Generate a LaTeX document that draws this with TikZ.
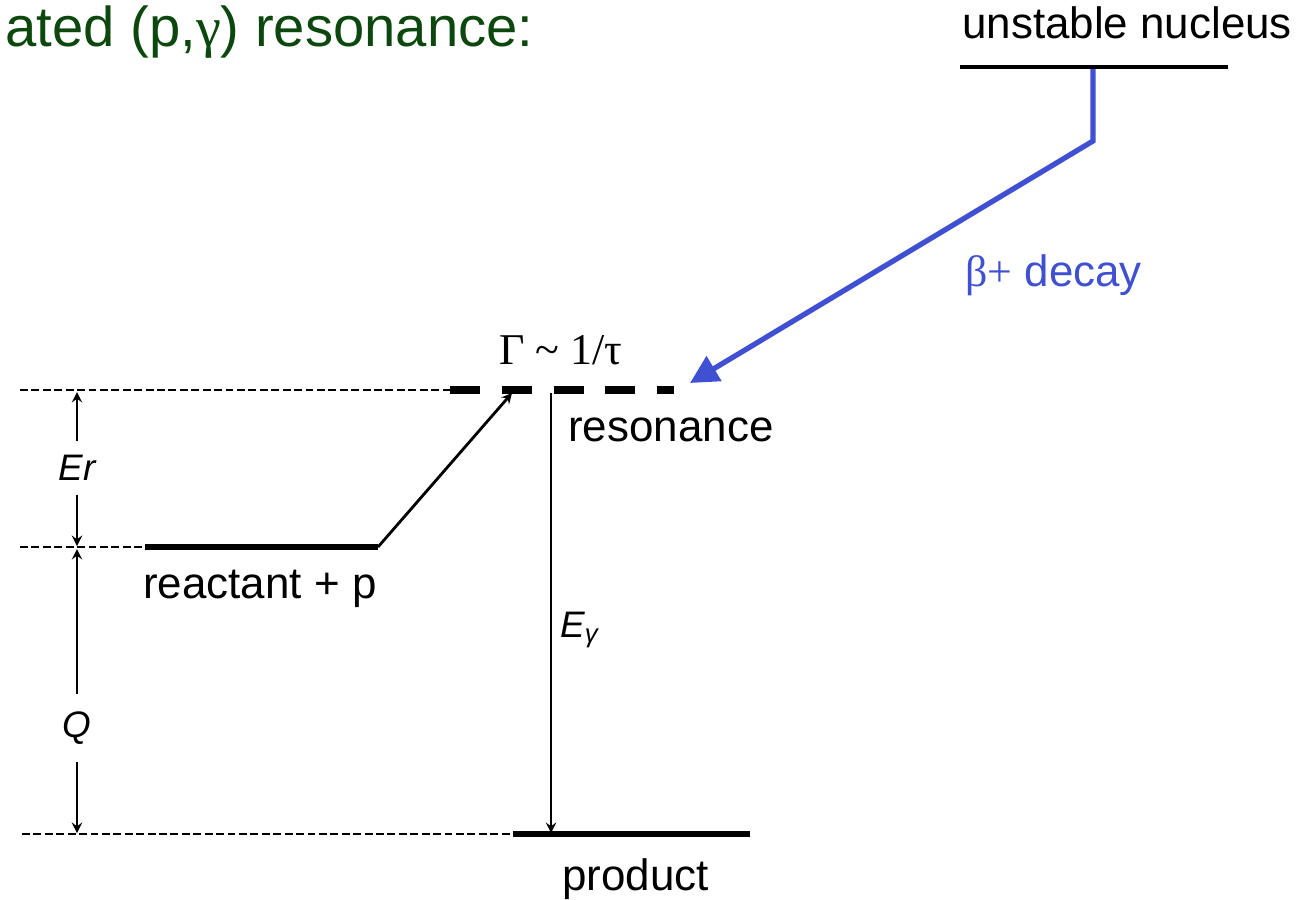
\documentclass[tikz,border=0pt]{standalone}
\usepackage{fontspec}
\setmainfont{Liberation Sans}
\newfontfamily\greekserif{Liberation Serif}
\usepackage{tikz}
\usetikzlibrary{arrows,arrows.meta,positioning}
\definecolor{titlegreen}{RGB}{12,72,14}
\definecolor{decayblue}{RGB}{64,80,210}

\begin{document}
\begin{tikzpicture}[
    x=0.02cm, y=-0.02cm,
    font=\fontsize{25}{30}\selectfont,
    level/.style={line width=3.8pt},
    guide/.style={line width=1.1pt, dash pattern=on 4.5pt off 2pt},
    reslevel/.style={line width=4.2pt, dash pattern=on 17pt off 12.5pt},
    arrow/.style={->,>=stealth, line width=1.6pt},
    decay/.style={-{Triangle[length=16pt,width=16pt]}, decayblue, line width=3pt},
    lbl/.style={inner sep=0pt, anchor=base west},
    gaplbl/.style={font=\fontsize{21}{25}\selectfont\itshape, inner xsep=0pt, inner ysep=8pt}
]
    \useasboundingbox (0,0) rectangle (1301,899);

    % level end points
    \coordinate (res-w) at (20,390);
    \coordinate (res-a) at (450,390);
    \coordinate (res-b) at (674,390);
    \coordinate (rea-w) at (20,547);
    \coordinate (rea-a) at (145,547);
    \coordinate (rea-b) at (378,547);
    \coordinate (pro-w) at (22,834);
    \coordinate (pro-a) at (513,834);
    \coordinate (pro-b) at (750,834);
    \coordinate (uns-a) at (960,67);
    \coordinate (uns-b) at (1228,67);

    % labels
    \node[lbl, titlegreen, font=\fontsize{32}{38}\selectfont] (title) at (5,46) {ated (p,{\greekserif γ}) resonance:};
    \node[lbl] (unstable) at (962,38) {unstable nucleus};
    \node[lbl, decayblue] (beta) at (965,286) {{\greekserif β+} decay};
    \node[lbl, font=\greekserif\fontsize{25}{30}\selectfont] (width) at (499,364) {Γ \char`\~{} 1/τ};
    \node[lbl] (resonance) at (568,441) {resonance};
    \node[lbl] (reactant) at (143,598) {reactant + p};
    \node[lbl] (product) at (562,890) {product};
    \node[lbl, font=\fontsize{21}{25}\selectfont\itshape] (egamma) at (560,637) {E\textsubscript{γ}};
    \node[gaplbl] (er) at (77,468) {Er};
    \node[gaplbl, inner ysep=10pt] (q) at (77,728) {Q};

    % levels
    \draw[guide] (res-w) -- (res-a);
    \draw[reslevel] (res-a) -- (res-b);
    \draw[guide] (rea-w) -- (rea-a);
    \draw[level] (rea-a) -- (rea-b);
    \draw[guide] (pro-w) -- (pro-a);
    \draw[level] (pro-a) -- (pro-b);
    \draw[level, line width=2.8pt] (uns-a) -- (uns-b);

    % energy gaps
    \draw[arrow] (er) -- (77,392);
    \draw[arrow] (er) -- (77,546);
    \draw[arrow] (q) -- (77,549);
    \draw[arrow] (q) -- (77,833);

    % transitions
    \coordinate (climb) at (512,393);
    \coordinate (gam-top) at (551,393);
    \coordinate (gam-bot) at (551,833);
    \draw[arrow] (rea-b) -- (climb);
    \draw[arrow] (gam-top) -- (gam-bot);

    \coordinate (dec-top) at (1093,69);
    \coordinate (dec-knee) at (1093,141);
    \coordinate (dec-end) at (690,383);
    \draw[decay] (dec-top) -- (dec-knee) -- (dec-end);
\end{tikzpicture}
\end{document}
